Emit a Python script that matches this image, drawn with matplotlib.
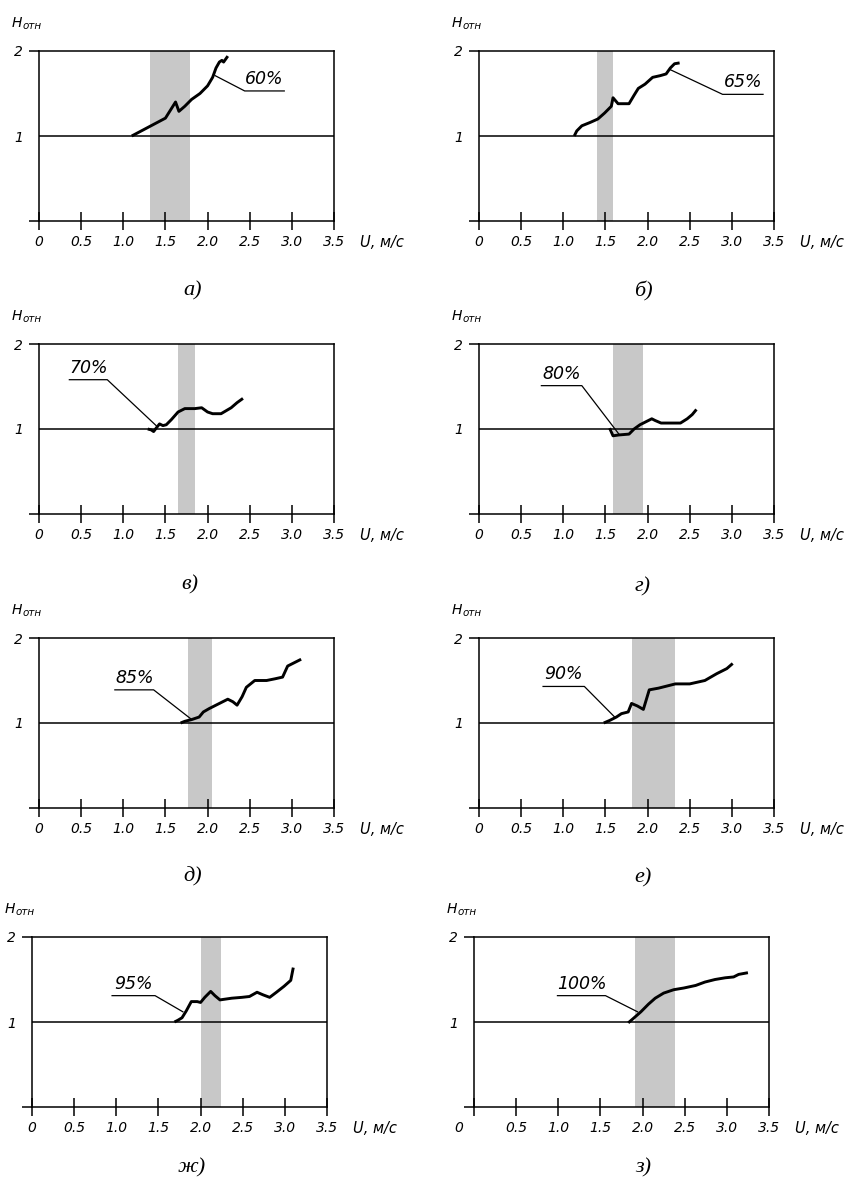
import numpy as np
import matplotlib.pyplot as plt
from matplotlib.transforms import ScaledTranslation

plt.rcParams['font.family'] = ['DejaVu Sans']
plt.rcParams['font.style'] = 'italic'

# подписи панелей и проценты
letters = ['а', 'б', 'в', 'г', 'д', 'е', 'ж', 'з']
percents = ['60%', '65%', '70%', '80%', '85%', '90%', '95%', '100%']

# серые полосы, U м/с
band_lo = [1.32, 1.40, 1.65, 1.59, 1.77, 1.82, 2.00, 1.91]
band_hi = [1.79, 1.59, 1.85, 1.95, 2.05, 2.32, 2.24, 2.38]

# кривые H_отн(U)
u_a = [1.10, 1.50, 1.62, 1.66, 1.73, 1.81, 1.91, 2.00, 2.06, 2.10, 2.14, 2.17, 2.19, 2.24]
h_a = [1.00, 1.21, 1.40, 1.29, 1.35, 1.43, 1.50, 1.59, 1.69, 1.80, 1.87, 1.89, 1.87, 1.94]

u_b = [1.13, 1.16, 1.22, 1.32, 1.41, 1.49, 1.57, 1.59, 1.65, 1.78, 1.84, 1.89, 1.97, 2.06,
       2.15, 2.22, 2.27, 2.32, 2.38]
h_b = [1.00, 1.06, 1.12, 1.16, 1.20, 1.27, 1.35, 1.45, 1.38, 1.38, 1.48, 1.56, 1.61, 1.69,
       1.71, 1.73, 1.80, 1.85, 1.86]

u_v = [1.29, 1.33, 1.36, 1.39, 1.43, 1.47, 1.51, 1.57, 1.65, 1.73, 1.85, 1.93, 2.00, 2.06,
       2.16, 2.28, 2.35, 2.42]
h_v = [1.00, 0.99, 0.97, 1.01, 1.06, 1.04, 1.05, 1.11, 1.20, 1.24, 1.24, 1.25, 1.20, 1.18,
       1.18, 1.25, 1.31, 1.36]

u_g = [1.55, 1.59, 1.66, 1.78, 1.84, 1.91, 1.99, 2.05, 2.09, 2.16, 2.27, 2.39, 2.47, 2.53, 2.58]
h_g = [1.01, 0.92, 0.93, 0.94, 1.00, 1.05, 1.09, 1.12, 1.10, 1.07, 1.07, 1.07, 1.12, 1.17, 1.23]

u_d = [1.68, 1.73, 1.81, 1.90, 1.95, 2.02, 2.14, 2.24, 2.30, 2.35, 2.41, 2.46, 2.56, 2.70,
       2.80, 2.89, 2.95, 3.01, 3.11]
h_d = [1.00, 1.02, 1.04, 1.07, 1.13, 1.17, 1.23, 1.28, 1.25, 1.21, 1.31, 1.42, 1.50, 1.50,
       1.52, 1.54, 1.67, 1.70, 1.75]

u_e = [1.48, 1.55, 1.63, 1.69, 1.77, 1.81, 1.88, 1.95, 2.02, 2.13, 2.21, 2.33, 2.50, 2.68,
       2.82, 2.94, 3.01]
h_e = [1.00, 1.03, 1.07, 1.11, 1.13, 1.23, 1.20, 1.16, 1.39, 1.41, 1.43, 1.46, 1.46, 1.50,
       1.58, 1.64, 1.70]

u_zh = [1.69, 1.73, 1.78, 1.83, 1.89, 1.96, 2.00, 2.05, 2.12, 2.17, 2.23, 2.37, 2.49, 2.58,
        2.67, 2.74, 2.82, 2.90, 2.99, 3.07, 3.10]
h_zh = [1.00, 1.02, 1.05, 1.13, 1.24, 1.24, 1.23, 1.29, 1.36, 1.31, 1.26, 1.28, 1.29, 1.30,
        1.35, 1.32, 1.29, 1.35, 1.42, 1.49, 1.64]

u_z = [1.83, 1.90, 1.98, 2.07, 2.15, 2.25, 2.37, 2.49, 2.63, 2.74, 2.86, 2.98, 3.08, 3.14, 3.25]
h_z = [0.99, 1.05, 1.12, 1.21, 1.28, 1.34, 1.38, 1.40, 1.43, 1.47, 1.50, 1.52, 1.53, 1.56, 1.58]

curves = [(u_a, h_a), (u_b, h_b), (u_v, h_v), (u_g, h_g),
          (u_d, h_d), (u_e, h_e), (u_zh, h_zh), (u_z, h_z)]

x_ticks = [0, 0.5, 1.0, 1.5, 2.0, 2.5, 3.0, 3.5]
x_labels = ['0', '0.5', '1.0', '1.5', '2.0', '2.5', '3.0', '3.5']

# выноски: точка на кривой, излом, конец полки
leaders = [
    [(2.09, 1.71), (2.44, 1.53), (2.91, 1.53)],
    [(2.27, 1.78), (2.89, 1.49), (3.37, 1.49)],
    [(1.39, 1.04), (0.81, 1.58), (0.36, 1.58)],
    [(1.66, 0.94), (1.22, 1.51), (0.74, 1.51)],
    [(1.80, 1.05), (1.36, 1.39), (0.90, 1.39)],
    [(1.61, 1.07), (1.25, 1.43), (0.76, 1.43)],
    [(1.79, 1.12), (1.46, 1.31), (0.95, 1.31)],
    [(1.94, 1.12), (1.56, 1.31), (0.99, 1.31)],
]

W, H = 855, 1178
fig = plt.figure(figsize=(W / 100, H / 100), dpi=100)

# левый верхний угол каждой панели, пиксели
corners = [(39, 51), (479, 51), (39, 344), (479, 344),
           (39, 638), (479, 638), (32, 937), (474, 937)]
aw, ah = 295, 170
captions_xy = [(193, 291), (643, 291), (190, 585), (643, 587),
               (193, 877), (643, 878), (192, 1168), (643, 1168)]

for i in range(8):
    l, t = corners[i]
    ax = fig.add_axes([l / W, 1 - (t + ah) / H, aw / W, ah / H])
    ax.set_xlim(0, 3.5)
    ax.set_ylim(0, 2)

    ax.axvspan(band_lo[i], band_hi[i], color='#c8c8c8', lw=0, zorder=0)
    ax.axhline(1, color='black', lw=1.1, zorder=1)
    u, h = curves[i]
    ax.plot(u, h, color='black', lw=2.1, zorder=3, solid_capstyle='butt')

    # выноска с процентом
    lx = [p[0] for p in leaders[i]]
    ly = [p[1] for p in leaders[i]]
    ax.plot(lx, ly, color='black', lw=0.9, zorder=2)
    ax.annotate(percents[i], xy=((lx[1] + lx[2]) / 2, ly[2]), xycoords='data',
                xytext=(0, 3), textcoords='offset pixels',
                ha='center', va='bottom', fontsize=12.5)

    for s in ax.spines.values():
        s.set_linewidth(1.1)

    ax.set_xticks(x_ticks)
    ax.set_xticklabels(x_labels)
    ax.tick_params(axis='x', direction='inout', length=13.5, width=1.1, pad=3,
                   labelsize=10)
    ax.set_yticks([0, 1, 2])
    ax.set_yticklabels(['', '1', '2'])
    ax.tick_params(axis='y', direction='out', length=7.5, width=1.1, pad=4,
                   labelsize=10)
    ax.yaxis.get_major_ticks()[1].tick1line.set_visible(False)

    if i == 7:
        # в панели з подпись «0» сдвинута влево
        lbl = ax.get_xticklabels()[0]
        lbl.set_transform(lbl.get_transform() +
                          ScaledTranslation(-0.15, 0, fig.dpi_scale_trans))

    ax.text(1.088, -0.125, 'U, м/с', transform=ax.transAxes, ha='left',
            va='center', fontsize=10.5)

    ax.annotate('H', xy=(0, 1), xycoords='axes fraction', xytext=(-27, 28),
                textcoords='offset pixels', ha='left', va='center', fontsize=10)
    ax.annotate('отн', xy=(0, 1), xycoords='axes fraction', xytext=(-16, 25),
                textcoords='offset pixels', ha='left', va='center', fontsize=7.5)

    cx, cy = captions_xy[i]
    fig.text(cx / W, 1 - cy / H, letters[i] + ')', ha='center', va='center',
             family='Liberation Serif', style='italic', fontsize=16)

fig.savefig('out.png', dpi=100)
